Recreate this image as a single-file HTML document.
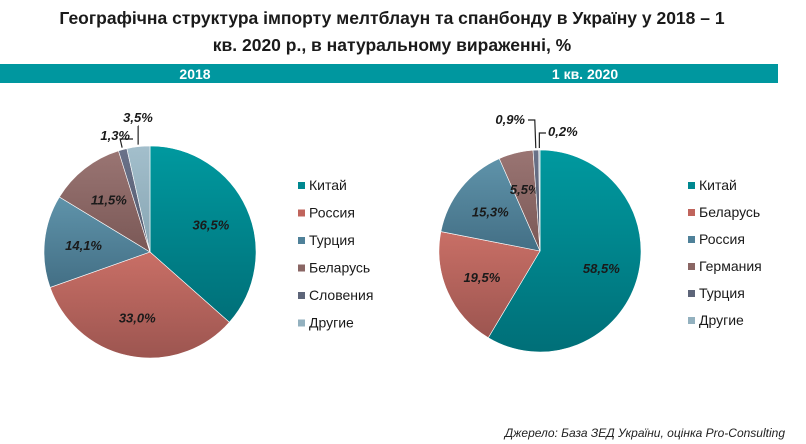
<!DOCTYPE html>
<html><head><meta charset="utf-8"><style>
body{margin:0;width:806px;height:444px;background:#fff;font-family:"Liberation Sans",sans-serif;overflow:hidden}
svg{display:block}
</style></head><body>
<svg id="c" width="806" height="444">
<defs>
<linearGradient id="gTeal" x1="0" y1="0" x2="0" y2="1"><stop offset="0" stop-color="#00999f"/><stop offset="1" stop-color="#006f78"/></linearGradient>
<linearGradient id="gRed" x1="0" y1="0" x2="0" y2="1"><stop offset="0" stop-color="#c96f66"/><stop offset="1" stop-color="#9c5550"/></linearGradient>
<linearGradient id="gBlue" x1="0" y1="0" x2="0" y2="1"><stop offset="0" stop-color="#5f93aa"/><stop offset="1" stop-color="#436f85"/></linearGradient>
<linearGradient id="gBrown" x1="0" y1="0" x2="0" y2="1"><stop offset="0" stop-color="#9a7573"/><stop offset="1" stop-color="#7a5856"/></linearGradient>
<linearGradient id="gSlate" x1="0" y1="0" x2="0" y2="1"><stop offset="0" stop-color="#6a7289"/><stop offset="1" stop-color="#525a6e"/></linearGradient>
<linearGradient id="gLight" x1="0" y1="0" x2="0" y2="1"><stop offset="0" stop-color="#a3bfcc"/><stop offset="1" stop-color="#86a4b2"/></linearGradient>
</defs>
<text x="392" y="24" text-anchor="middle" font-size="17.5" font-weight="bold" fill="#1a1a1a">Географічна структура імпорту мелтблаун та спанбонду в Україну у 2018 – 1</text>
<text x="392" y="51" text-anchor="middle" font-size="17.5" font-weight="bold" fill="#1a1a1a">кв. 2020 р., в натуральному вираженні, %</text>
<rect x="0" y="64" width="778" height="19" fill="#00979f"/>
<text x="195" y="79" text-anchor="middle" font-size="14" font-weight="bold" fill="#fff">2018</text>
<text x="585" y="79" text-anchor="middle" font-size="14" font-weight="bold" fill="#fff">1 кв. 2020</text>
<text x="785" y="437" text-anchor="end" font-size="12" font-style="italic" fill="#222">Джерело: База ЗЕД України, оцінка Pro-Consulting</text>
<g id="p1"></g><g id="p2"></g>
</svg>
<script>
const cats2018=["Китай","Россия","Турция","Беларусь","Словения","Другие"];
const vals2018=[36.5,33.0,14.1,11.5,1.3,3.5];
const cats2020=["Китай","Беларусь","Россия","Германия","Турция","Другие"];
const vals2020=[58.5,19.5,15.3,5.5,0.9,0.2];
const fills=["url(#gTeal)","url(#gRed)","url(#gBlue)","url(#gBrown)","url(#gSlate)","url(#gLight)"];
const legCols=["#008890","#c0645c","#4f8199","#8a6664","#5d6579","#93b1bf"];
const NS="http://www.w3.org/2000/svg";
function el(t,a,p){const e=document.createElementNS(NS,t);for(const k in a)e.setAttribute(k,a[k]);p.appendChild(e);return e;}
function fmt(v){return v.toFixed(1).replace('.',',')+'%';}
function pie(g,cats,vals,cx,cy,r,lx,ly,ld,small){
  const tot=vals.reduce((a,b)=>a+b,0);let a0=0;
  vals.forEach((v,i)=>{
    const a1=a0+v/tot*2*Math.PI;
    const p=(a)=>[cx+r*Math.sin(a),cy-r*Math.cos(a)];
    const [x0,y0]=p(a0),[x1,y1]=p(a1);
    const path=el('path',{d:`M${cx},${cy}L${x0},${y0}A${r},${r} 0 ${a1-a0>Math.PI?1:0} 1 ${x1},${y1}Z`,fill:fills[i],stroke:'#fff','stroke-width':0.6},g);
    
    
    const am=(a0+a1)/2;
    let tx,ty,anchor='middle';
    if(small[i]){
      const s=small[i];
      const [ex,ey]=[cx+(r+2)*Math.sin(am),cy-(r+2)*Math.cos(am)];
      const ln=el('path',{d:`M${ex},${ey}L${ex+s.dx1},${s.ly}L${s.lx2},${s.ly}`,fill:'none',stroke:'#222','stroke-width':1.2},g);
      
      
      tx=s.tx;ty=s.ty;anchor=s.anchor;
    } else {
      const rr=r*0.63;tx=cx+rr*Math.sin(am);ty=cy-rr*Math.cos(am)+5;
    }
    const t=el('text',{x:tx,y:ty,'text-anchor':anchor,'font-size':13,'font-weight':'bold','font-style':'italic',fill:'#1a1a1a'},g);
    t.textContent=fmt(v);
    
    
    a0=a1;
  });
  cats.forEach((c,i)=>{
    const y=ly+i*ld;
    const sq=el('rect',{x:lx,y:y-8,width:7,height:7,fill:legCols[i]},g);
    
    
    const t=el('text',{x:lx+11,y:y,'font-size':14,fill:'#1a1a1a'},g);
    t.textContent=c;
    
    
  });
}
pie(document.getElementById('p1'),cats2018,vals2018,150,252,106,298,190,27.5,
 {4:{dx1:-2,ly:139,lx2:133,tx:130,ty:140,anchor:'end'},5:{dx1:0,ly:126,lx2:138,tx:138,ty:122,anchor:'middle'}});
pie(document.getElementById('p2'),cats2020,vals2020,540,251,101,688,190,27,
 {4:{dx1:-1,ly:120,lx2:528,tx:525,ty:124,anchor:'end'},5:{dx1:0,ly:133,lx2:546,tx:548,ty:136,anchor:'start'}});
</script>
</body></html>
